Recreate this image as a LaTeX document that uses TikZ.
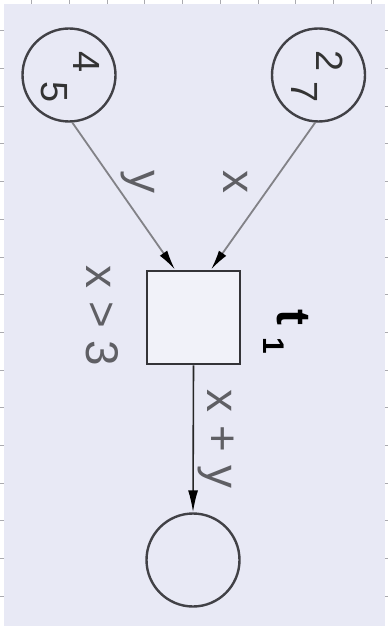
\documentclass[tikz,border=0pt]{standalone}
\usepackage{fontspec}
\setmainfont{Liberation Sans}
\usetikzlibrary{arrows.meta,calc}
\definecolor{bglav}{RGB}{232,233,245}
\definecolor{tickgray}{RGB}{170,170,175}
\definecolor{strokedark}{RGB}{65,65,70}
\definecolor{arcgray}{RGB}{130,130,135}
\definecolor{labelgray}{RGB}{95,95,100}
\tikzset{
  place/.style={circle, draw=strokedark, line width=2.4bp, minimum size=93bp, inner sep=0pt},
  trans/.style={rectangle, draw=strokedark!80!black, line width=2.8bp, minimum size=93bp, inner sep=0pt},
  inarc/.style={draw=arcgray, line width=1.8bp, -{Latex[length=20bp,width=9bp,color=black]}},
  outarc/.style={draw=black!85, line width=1.6bp, -{Latex[length=22bp,width=10bp,color=black]}},
  lbl/.style={rotate=-90, inner sep=0pt, text=labelgray, font=\fontsize{46}{48}\selectfont},
  tok/.style={rotate=-90, inner sep=0pt, text=black!80, font=\fontsize{38}{40}\selectfont},
  hand/.style={rotate=-90, inner sep=0pt, text=black, font=\fontsize{48}{50}\selectfont\bfseries},
  tick/.style={draw=tickgray, line width=0.8bp}
}
\begin{document}
\begin{tikzpicture}[x=1bp,y=-1bp]
\useasboundingbox (0,0) rectangle (388,626);
\fill[white] (0,0) rectangle (388,626);
\fill[bglav] (4,4) rectangle (385,626);
\foreach \k in {0,...,9} { \draw[tick] ({31.7+37.7*\k},0) -- ({31.7+37.7*\k},4); }
\foreach \k in {0,...,15} {
  \draw[tick] (0,{30.7+37.7*\k}) -- (4,{30.7+37.7*\k});
  \draw[tick] (385,{30.7+37.7*\k}) -- (388,{30.7+37.7*\k});
}
\node[place] (p1) at (69,75) {};
\node[place] (p2) at (318.5,75) {};
\node[trans, fill=bglav!60!white] (t) at (193.5,317.5) {};
\node[place] (p3) at (193,560) {};
\coordinate (tin1) at ($(t.north)+(-18.5,0)$);
\coordinate (tin2) at ($(t.north)+(17.5,0)$);
\draw[inarc] (p1.-86) -- (tin1);
\draw[inarc] (p2.-94) -- (tin2);
\draw[outarc] (t.south) -- (p3.north);
\node[tok] (n4) at (87,62) {4};
\node[tok] (n5) at (54,92) {5};
\node[tok] (n2) at (330,61) {2};
\node[tok] (n7) at (305,92) {7};
\node[lbl] (ly) at (138,182) {y};
\node[lbl] (lx) at (236,182) {x};
\node[lbl] (lg) at (102,316) {x > 3};
\node[lbl] (ls) at (216,439) {x + y};
\node[hand] (tl) at (286,332) {t\hspace{0.25em}\raisebox{-0.3em}{\fontsize{30}{32}\selectfont 1}};
\end{tikzpicture}
\end{document}
